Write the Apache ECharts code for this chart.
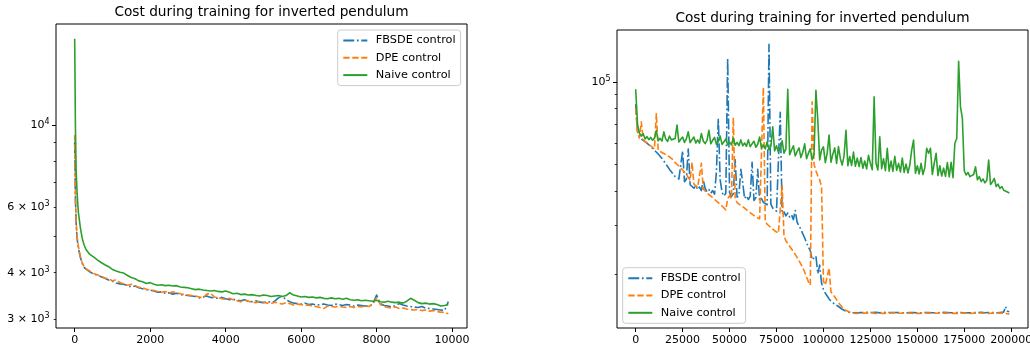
<!DOCTYPE html>
<html>
<head>
<meta charset="utf-8">
<script src="https://cdn.jsdelivr.net/npm/echarts@6/dist/echarts.min.js"></script>
<style>
  html, body { margin: 0; padding: 0; background: #fff; }
  #chart { width: 1030px; height: 350px; }
</style>
</head>
<body>
<div id="chart"></div>
<script>
// ---- Short run: 0 .. 9900 iterations (denser near the start) ----
const shortIters = [0, 20, 40, 60, 80, 100, 150, 200, 250]
  .concat(Array.from({ length: 97 }, (_, i) => 300 + i * 100));

const shortFbsde = [
  9000, 6300, 5400, 5000, 4800, 4650, 4400, 4230, 4130,
  4080, 4020, 3970, 3940, 3900, 3860, 3820, 3790, 3750, 3730,
  3720, 3690, 3660, 3680, 3640, 3620, 3600, 3590, 3570, 3540,
  3550, 3520, 3530, 3500, 3520, 3490, 3480, 3470, 3460, 3450,
  3420, 3440, 3460, 3430, 3420, 3410, 3430, 3400, 3380, 3390,
  3370, 3360, 3380, 3350, 3340, 3360, 3330, 3320, 3340, 3330,
  3350, 3420, 3460, 3380, 3340, 3310, 3300, 3290, 3310, 3280,
  3290, 3270, 3280, 3290, 3270, 3260, 3290, 3280, 3260, 3280,
  3270, 3250, 3270, 3260, 3250, 3240, 3290, 3480, 3300, 3260,
  3250, 3230, 3260, 3300, 3270, 3250, 3240, 3230, 3220, 3240,
  3210, 3200, 3190, 3180, 3170, 3160, 3340
];

const shortDpe = [
  9400, 6400, 5500, 5050, 4850, 4700, 4420, 4250, 4150,
  4090, 4040, 3980, 3950, 3910, 3870, 3850, 3800, 3830, 3760,
  3730, 3700, 3720, 3690, 3650, 3640, 3610, 3590, 3580, 3560,
  3540, 3560, 3520, 3550, 3530, 3510, 3490, 3480, 3470, 3460,
  3440, 3420, 3500, 3520, 3440, 3430, 3400, 3390, 3410, 3380,
  3360, 3340, 3370, 3350, 3330, 3320, 3350, 3330, 3310, 3300,
  3330, 3310, 3290, 3320, 3300, 3270, 3290, 3280, 3260, 3270,
  3250, 3240, 3220, 3200, 3250, 3240, 3230, 3250, 3230, 3220,
  3240, 3220, 3240, 3230, 3260, 3240, 3300, 3420, 3280, 3240,
  3220, 3210, 3230, 3200, 3210, 3190, 3180, 3170, 3180, 3160,
  3170, 3150, 3160, 3140, 3130, 3120, 3100
];

const shortNaive = [
  17100, 9800, 7500, 6700, 6150, 5800, 5300, 4950, 4750,
  4620, 4480, 4410, 4330, 4260, 4200, 4150, 4080, 4040, 4010,
  3990, 3930, 3880, 3850, 3800, 3780, 3740, 3760, 3720, 3700,
  3710, 3690, 3700, 3680, 3690, 3660, 3650, 3640, 3620, 3600,
  3610, 3590, 3580, 3570, 3580, 3560, 3550, 3570, 3540, 3510,
  3520, 3490, 3500, 3480, 3490, 3470, 3460, 3480, 3470, 3450,
  3460, 3470, 3450, 3470, 3530, 3480, 3460, 3440, 3450, 3430,
  3440, 3420, 3430, 3410, 3400, 3420, 3400, 3410, 3390, 3410,
  3380, 3370, 3380, 3360, 3370, 3360, 3350, 3370, 3340, 3330,
  3350, 3330, 3320, 3330, 3310, 3350, 3410, 3370, 3320, 3300,
  3310, 3290, 3300, 3280, 3250, 3260, 3280
];

// ---- Long run: 0 .. 199000 iterations, one value per 1000 ----
const longIters = Array.from({ length: 200 }, (_, i) => i * 1000);

const longFbsde = [
  83000, 66000, 63000, 62000, 61200, 60500, 59800, 59000, 58200, 57300,
  56400, 55500, 54600, 53700, 52600, 51500, 50300, 49200, 48000, 47100,
  46500, 45200, 45900, 44300, 44800, 56000, 43300, 44200, 57000, 42200,
  42300, 41000, 41900, 40500, 41400, 40200, 44000, 40900, 39800, 40500,
  39300, 40200, 39000, 47000, 73600, 44000, 39600, 38400, 39300, 122000,
  39500, 38200, 39200, 52000, 38000, 38900, 48000, 43000, 37600, 38500,
  37300, 38300, 51000, 37000, 37900, 48000, 36900, 37600, 36400, 36900,
  35700, 137000, 35900, 34700, 35200, 33800, 34300, 77500, 33000, 33600,
  32500, 33300, 32200, 32800, 31500, 34000, 30800, 30400, 29000, 28600,
  27000, 26700, 25000, 24300, 22500, 22300, 23200, 20000, 21500, 18500,
  17500, 17000, 16600, 16200, 15900, 15700, 15500, 15300, 15200, 15000,
  14850, 14700, 14600, 14500, 14450, 14480, 14430, 14460, 14420, 14470,
  14440, 14410, 14460, 14430, 14470, 14420, 14450, 14430, 14480, 14440,
  14410, 14450, 14470, 14430, 14440, 14420, 14460, 14430, 14450, 14410,
  14440, 14470, 14420, 14450, 14430, 14460, 14440, 14420, 14450, 14470,
  14430, 14440, 14410, 14460, 14450, 14420, 14440, 14470, 14430, 14450,
  14420, 14460, 14440, 14430, 14470, 14410, 14450, 14440, 14420, 14460,
  14430, 14450, 14470, 14420, 14440, 14460, 14430, 14450, 14410, 14440,
  14460, 14430, 14450, 14420, 14470, 14440, 14430, 14460, 14450, 14420,
  14440, 14470, 14430, 14450, 14460, 14480, 14500, 15200, 14600, 14550
];

const longDpe = [
  80000, 65000, 62500, 71500, 61500, 60800, 60000, 59300, 58500, 57800,
  57000, 76700, 56300, 55800, 55300, 54800, 54400, 54000, 53300, 52500,
  52000, 50800, 51100, 49400, 49700, 47800, 48200, 46000, 46000, 43800,
  51000, 42400, 42900, 41300, 41900, 50500, 40700, 40800, 39300, 39600,
  38400, 38900, 37300, 37700, 36300, 36600, 35300, 35500, 34200, 37500,
  38500, 37600, 74200, 37600, 36300, 36800, 35500, 35900, 34700, 35000,
  33800, 34200, 33000, 33300, 32200, 32600, 31700, 32100, 95500, 31000,
  30300, 30600, 29500, 29800, 28700, 29100, 28100, 28500, 42000, 27400,
  26400, 26500, 25200, 25400, 24100, 24200, 22900, 23000, 21700, 21600,
  20300, 20100, 18700, 18200, 84600, 50000, 47500, 45500, 44000, 41500,
  18800, 18200, 17900, 21000, 17200, 16800, 16500, 16100, 15700, 15400,
  15100, 14900, 14700, 14600, 14500, 14420, 14380, 14400, 14350, 14390,
  14370, 14340, 14400, 14360, 14380, 14350, 14410, 14370, 14340, 14390,
  14360, 14400, 14350, 14380, 14370, 14340, 14390, 14360, 14410, 14350,
  14380, 14340, 14370, 14400, 14360, 14350, 14390, 14370, 14340, 14380,
  14360, 14410, 14350, 14370, 14390, 14340, 14380, 14360, 14400, 14350,
  14370, 14340, 14390, 14360, 14380, 14350, 14400, 14370, 14340, 14380,
  14360, 14390, 14350, 14370, 14400, 14340, 14380, 14360, 14350, 14390,
  14370, 14340, 14380, 14360, 14400, 14350, 14370, 14390, 14340, 14360,
  14380, 14350, 14370, 14340, 14390, 14360, 14380, 14350, 14300, 14260
];

const longNaive = [
  94000, 70000, 65000, 63500, 64800, 62000, 63200, 61600, 62800, 61300,
  62400, 66500, 61000, 62300, 60900, 65800, 61900, 60700, 63500, 61500,
  60500, 62200, 69600, 60400, 61800, 63000, 60200, 62000, 65800, 60100,
  61600, 63000, 59900, 61500, 59800, 64900, 60900, 59600, 61200, 66700,
  59500, 61300, 62800, 59300, 60800, 63500, 59200, 60500, 62000, 59000,
  60300, 59000, 62500, 58800, 60200, 58600, 61500, 58500, 59900, 58300,
  61500, 58100, 59500, 60800, 57800, 59300, 63000, 57400, 58900, 57000,
  60500, 56600, 58200, 68600, 56000, 58500, 55600, 57500, 61000, 55000,
  57000, 94000, 54300, 56500, 58500, 53700, 55800, 57500, 53000, 55500,
  59500, 52500, 55000, 57000, 52000, 54500, 93300, 72500, 52000, 56500,
  58000, 50800, 55000, 64000, 51000, 54500, 57500, 50500, 58100, 52500,
  49800, 54000, 66700, 49500, 53500, 49600, 55500, 49300, 52800, 49200,
  53000, 48500, 51500, 48200, 54000, 50500, 47900, 88200, 50500, 47800,
  63100, 48300, 52500, 47500, 57300, 47300, 51500, 47200, 53600, 47600,
  50500, 47000, 52800, 46800, 50200, 46600, 49800, 56400, 61400, 46500,
  49500, 46200, 50500, 46000, 48800, 57300, 55000, 57300, 46000, 50500,
  54900, 45600, 49500, 45400, 48500, 45300, 50800, 45100, 51000, 44800,
  59800, 62200, 119000, 81100, 73600, 47500, 45800, 46800, 45200, 44800,
  46000, 49100, 44000, 45200, 43400, 44300, 42900, 43800, 51900, 42300,
  43200, 44500, 41600, 42400, 40900, 41600, 40300, 40800, 39700, 39400
];

// ---- Axis ticks and labels ----
const shortXTicks = [0, 2000, 4000, 6000, 8000, 10000];
const longXTicks = [0, 25000, 50000, 75000, 100000, 125000, 150000, 175000, 200000];
const shortYLabels = [3000, 4000, 6000, 10000];
const shortYMajor = [10000];
const shortYMinor = [3000, 4000, 5000, 6000, 7000, 8000, 9000];
const longYLabels = [100000];
const longYMajor = [100000];
const longYMinor = [20000, 30000, 40000, 50000, 60000, 70000, 80000, 90000];

const seriesNames = ['FBSDE control', 'DPE control', 'Naive control'];
const chartTitle = 'Cost during training for inverted pendulum';

const FONT = 'DejaVu Sans';
const COLORS = ['#1f77b4', '#ff7f0e', '#2ca02c'];
const DASHES = [[10.9, 2.7, 1.7, 2.7], [6.3, 2.7], 'solid'];
const LW = 1.6;
const TICK_FONT = 11;

// Log-axis label like "3 × 10³" / "10⁴"
function logLabel(v) {
  const e = Math.floor(Math.log10(v) + 1e-9);
  const m = Math.round(v / Math.pow(10, e));
  if (m === 1) return '{m|10}{s|' + e + '}';
  return '{m|' + m + ' × 10}{s|' + e + '}';
}

const labelRich = {
  m: { fontFamily: FONT, fontSize: TICK_FONT, color: '#000', lineHeight: 14 },
  s: { fontFamily: FONT, fontSize: 8, color: '#000', lineHeight: 8, verticalAlign: 'top' }
};

function xAxisCfg(grid, min, max, ticks) {
  return {
    gridIndex: grid, type: 'value', min: min, max: max,
    axisLine: { show: false, onZero: false },
    splitLine: { show: false },
    axisTick: { show: true, customValues: ticks, length: 4, lineStyle: { color: '#000', width: 1 } },
    axisLabel: {
      customValues: ticks, margin: 6.5, hideOverlap: false, showMinLabel: true, showMaxLabel: true,
      fontFamily: FONT, fontSize: TICK_FONT, color: '#000',
      formatter: v => String(Math.round(v))
    }
  };
}

function yAxisMajor(grid, min, max, ticks, labels) {
  return {
    gridIndex: grid, type: 'log', logBase: 10, min: min, max: max, position: 'left',
    axisLine: { show: false, onZero: false },
    splitLine: { show: false },
    minorTick: { show: false },
    axisTick: { show: true, customValues: ticks, length: 4, lineStyle: { color: '#000', width: 1 } },
    axisLabel: { customValues: labels, margin: 6.5, hideOverlap: false, formatter: logLabel, rich: labelRich }
  };
}

function yAxisMinor(grid, min, max, ticks) {
  return {
    gridIndex: grid, type: 'log', logBase: 10, min: min, max: max, position: 'left',
    axisLine: { show: false, onZero: false },
    splitLine: { show: false },
    axisTick: { show: true, customValues: ticks, length: 2.3, lineStyle: { color: '#000', width: 0.8 } },
    axisLabel: { show: false }
  };
}

function makeSeries(name, idx, xIdx, yIdx, iters, values) {
  return {
    name: name, type: 'line', xAxisIndex: xIdx, yAxisIndex: yIdx,
    data: iters.map((it, i) => [it, values[i]]),
    symbol: 'none', silent: true, clip: true,
    lineStyle: { color: COLORS[idx], width: LW, type: DASHES[idx], cap: 'butt', join: 'round' },
    itemStyle: { color: COLORS[idx] }
  };
}

function legendCfg(left, top) {
  return {
    orient: 'vertical', left: left, top: top,
    data: seriesNames,
    padding: [4, 5, 4, 4.6],
    itemWidth: 24, itemHeight: 13, itemGap: 4.3,
    backgroundColor: '#fff', borderColor: '#cccccc', borderWidth: 1, borderRadius: 3,
    itemStyle: { opacity: 0 },
    textStyle: { fontFamily: FONT, fontSize: 11.3, color: '#000', lineHeight: 13, padding: [0, 0, 0, 3.5] },
    selectedMode: false
  };
}

const titleStyle = { fontFamily: FONT, fontSize: 13.7, fontWeight: 'normal', color: '#000' };

const gridBase = {
  show: true, borderColor: '#000', borderWidth: 1, backgroundColor: 'transparent',
  containLabel: false, outerBoundsMode: 'none'
};

const option = {
  animation: false,
  backgroundColor: '#fff',
  title: [
    { text: chartTitle, left: 261.5, top: 5, textAlign: 'center', padding: 0, textStyle: titleStyle },
    { text: chartTitle, left: 822.5, top: 11, textAlign: 'center', padding: 0, textStyle: titleStyle }
  ],
  grid: [
    Object.assign({ left: 56, top: 24, width: 411, height: 304 }, gridBase),
    Object.assign({ left: 617, top: 30, width: 411, height: 298 }, gridBase)
  ],
  xAxis: [
    xAxisCfg(0, -495, 10395, shortXTicks),
    xAxisCfg(1, -9950, 208950, longXTicks)
  ],
  yAxis: [
    yAxisMajor(0, 2836, 18750, shortYMajor, shortYLabels),
    yAxisMinor(0, 2836, 18750, shortYMinor),
    yAxisMajor(1, 12690, 154600, longYMajor, longYLabels),
    yAxisMinor(1, 12690, 154600, longYMinor)
  ],
  legend: [legendCfg(337.7, 30), legendCfg(622.7, 267.7)],
  series: [
    makeSeries(seriesNames[0], 0, 0, 0, shortIters, shortFbsde),
    makeSeries(seriesNames[1], 1, 0, 0, shortIters, shortDpe),
    makeSeries(seriesNames[2], 2, 0, 0, shortIters, shortNaive),
    makeSeries(seriesNames[0], 0, 1, 2, longIters, longFbsde),
    makeSeries(seriesNames[1], 1, 1, 2, longIters, longDpe),
    makeSeries(seriesNames[2], 2, 1, 2, longIters, longNaive)
  ]
};

const chart = echarts.init(document.getElementById('chart'), null, { renderer: 'canvas' });
chart.setOption(option);
</script>
</body>
</html>
